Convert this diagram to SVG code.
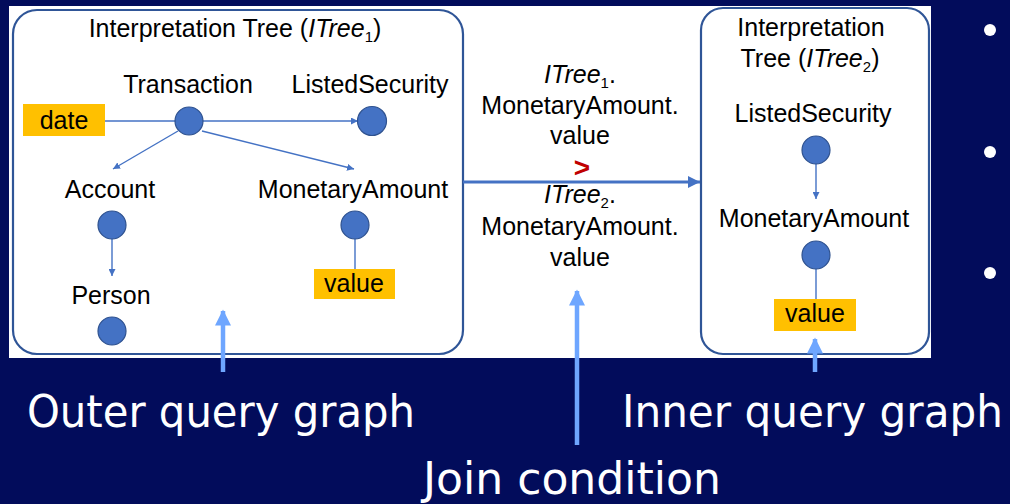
<svg xmlns="http://www.w3.org/2000/svg" width="1010" height="504" viewBox="0 0 1010 504">
<defs>
<style>
.lbl{font-family:"Liberation Sans",Arial,sans-serif;font-size:25px;fill:#000;text-anchor:middle}
.big{font-family:"DejaVu Sans Condensed","Liberation Sans Narrow","DejaVu Sans",sans-serif;font-size:45px;fill:#fff}
.node{fill:#4472C4;stroke:#2F528F;stroke-width:1.2}
.edge{stroke:#4472C4;stroke-width:1.4;fill:none}
.attr{fill:#FFC000}
.panel{fill:none;stroke:#2F5597;stroke-width:2.2}
.call{stroke:#6EA6FF;stroke-width:4.5;fill:none}
</style>
<marker id="ah" viewBox="0 0 10 10" refX="10" refY="5" markerWidth="7" markerHeight="7" markerUnits="userSpaceOnUse" orient="auto">
<path d="M0,0 L10,5 L0,10 z" fill="#4472C4"/>
</marker>
<marker id="ahBig" viewBox="0 0 10 10" refX="10" refY="5" markerWidth="4" markerHeight="4" orient="auto">
<path d="M0,0 L10,5 L0,10 z" fill="#4472C4"/>
</marker>
<marker id="ahCall" viewBox="0 0 10 10" refX="9" refY="5" markerWidth="3.6" markerHeight="3.6" orient="auto">
<path d="M0,0 L10,5 L0,10 z" fill="#6EA6FF"/>
</marker>
</defs>
<rect x="0" y="0" width="1010" height="504" fill="#020C5B"/>
<rect x="9" y="6" width="922" height="352" fill="#ffffff"/>

<g id="panel-outer">
<rect class="panel" x="13" y="10" width="450" height="344" rx="24" ry="24"/>
<text class="lbl" x="235" y="37">Interpretation Tree (<tspan font-style="italic">ITree</tspan><tspan font-size="15" dy="5">1</tspan><tspan dy="-5">)</tspan></text>
</g>
<g id="panel-inner">
<rect class="panel" x="701" y="8" width="228" height="346" rx="22" ry="22"/>
<text class="lbl" x="811" y="36">Interpretation</text>
<text class="lbl" x="810" y="67">Tree (<tspan font-style="italic">ITree</tspan><tspan font-size="15" dy="5">2</tspan><tspan dy="-5">)</tspan></text>
</g>

<g id="connectors">
<line class="edge" x1="105" y1="121" x2="176" y2="121"/>
<line class="edge" x1="203" y1="121" x2="358" y2="121" marker-end="url(#ah)"/>
<line class="edge" x1="178" y1="131" x2="113" y2="169" marker-end="url(#ah)"/>
<line class="edge" x1="202" y1="131" x2="354" y2="169" marker-end="url(#ah)"/>
<line class="edge" x1="112" y1="239" x2="112" y2="276" marker-end="url(#ah)"/>
<line class="edge" x1="355" y1="239" x2="355" y2="269"/>
<line class="edge" x1="816" y1="164" x2="816" y2="199" marker-end="url(#ah)"/>
<line class="edge" x1="816" y1="269" x2="816" y2="299"/>
<line x1="463" y1="182" x2="700" y2="182" stroke="#4472C4" stroke-width="3" marker-end="url(#ahBig)"/>
<line class="call" x1="223" y1="372" x2="223" y2="311" marker-end="url(#ahCall)"/>
<line class="call" x1="577" y1="445" x2="577" y2="291" marker-end="url(#ahCall)"/>
<line class="call" x1="815" y1="372" x2="815" y2="339" marker-end="url(#ahCall)"/>
</g>

<g id="node-date">
<rect class="attr" x="23" y="104" width="82" height="32"/>
<text class="lbl" x="64" y="129">date</text>
</g>
<g id="node-transaction">
<text class="lbl" x="188" y="93">Transaction</text>
<circle class="node" cx="189" cy="121" r="14"/>
</g>
<g id="node-listedsecurity-1">
<text class="lbl" x="370" y="93">ListedSecurity</text>
<circle class="node" cx="372" cy="121" r="14.5"/>
</g>
<g id="node-account">
<text class="lbl" x="110" y="198">Account</text>
<circle class="node" cx="112" cy="225" r="14"/>
</g>
<g id="node-monetaryamount-1">
<text class="lbl" x="353" y="198">MonetaryAmount</text>
<circle class="node" cx="355" cy="225" r="14"/>
</g>
<g id="node-value-1">
<rect class="attr" x="314" y="269" width="81" height="30"/>
<text class="lbl" x="354" y="292">value</text>
</g>
<g id="node-person">
<text class="lbl" x="111" y="304">Person</text>
<circle class="node" cx="112" cy="331" r="14"/>
</g>

<g id="join-label">
<text class="lbl" x="580" y="83"><tspan font-style="italic">ITree</tspan><tspan font-size="15" dy="5">1</tspan><tspan dy="-5">.</tspan></text>
<text class="lbl" x="580" y="114">MonetaryAmount.</text>
<text class="lbl" x="580" y="144">value</text>
<text x="582" y="177" font-family="Liberation Sans,Arial,sans-serif" font-size="28" font-weight="bold" fill="#C00000" text-anchor="middle">&gt;</text>
<text class="lbl" x="580" y="203"><tspan font-style="italic">ITree</tspan><tspan font-size="15" dy="5">2</tspan><tspan dy="-5">.</tspan></text>
<text class="lbl" x="580" y="235">MonetaryAmount.</text>
<text class="lbl" x="580" y="266">value</text>
</g>

<g id="node-listedsecurity-2">
<text class="lbl" x="813" y="122">ListedSecurity</text>
<circle class="node" cx="816" cy="150" r="14"/>
</g>
<g id="node-monetaryamount-2">
<text class="lbl" x="814" y="227">MonetaryAmount</text>
<circle class="node" cx="816" cy="255" r="14"/>
</g>
<g id="node-value-2">
<rect class="attr" x="774" y="299" width="82" height="32"/>
<text class="lbl" x="815" y="322">value</text>
</g>

<g id="bullets" fill="#ffffff">
<circle cx="990" cy="30" r="6"/>
<circle cx="990" cy="152" r="6"/>
<circle cx="990" cy="273" r="6"/>
</g>

<g id="captions">
<text class="big" x="27" y="427" textLength="388" lengthAdjust="spacingAndGlyphs">Outer query graph</text>
<text class="big" x="622" y="427" textLength="381" lengthAdjust="spacingAndGlyphs">Inner query graph</text>
<text class="big" x="423" y="494" font-size="42" textLength="298" lengthAdjust="spacingAndGlyphs">Join condition</text>
</g>
</svg>
